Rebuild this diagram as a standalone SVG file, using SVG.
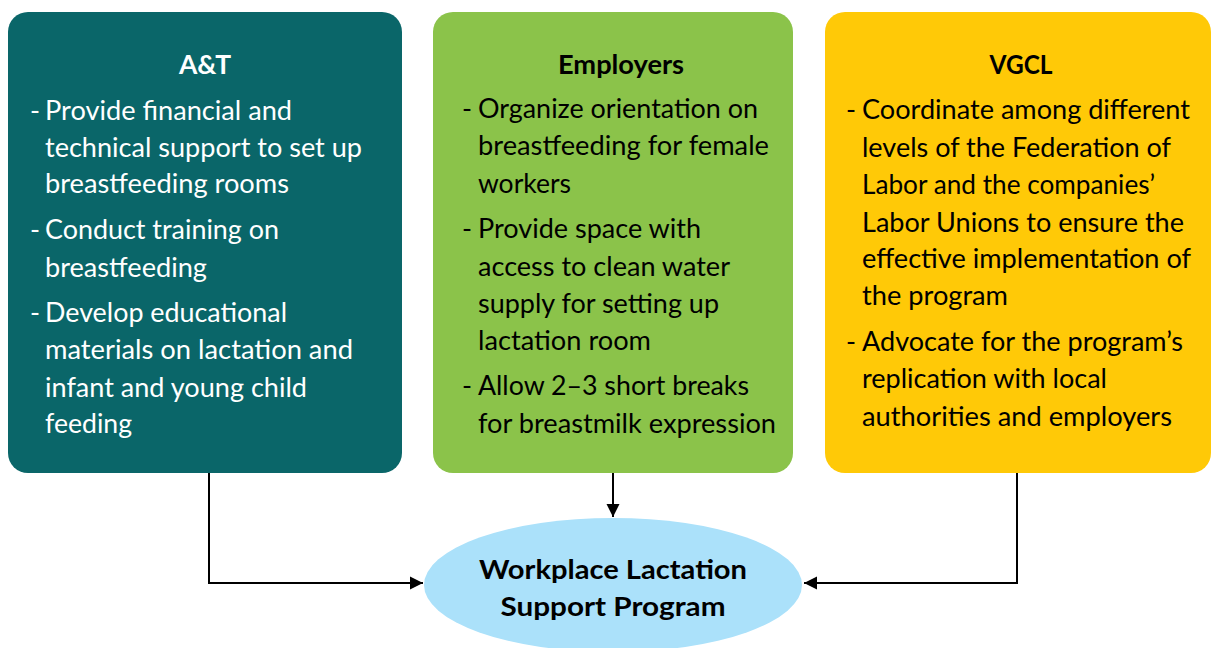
<svg xmlns="http://www.w3.org/2000/svg" width="1211" height="648" viewBox="0 0 1211 648">
<defs>
<style>
.t{font-family:Lato,"Open Sans","Liberation Sans",sans-serif;font-size:27px}
.b{font-family:Lato,"Open Sans","Liberation Sans",sans-serif;font-size:27px;font-weight:bold}
.w{fill:#ffffff}
.k{fill:#000000}
.con{fill:none;stroke:#000;stroke-width:2}
</style>
<marker id="ah" viewBox="0 0 10 10" refX="10" refY="5" markerWidth="6.5" markerHeight="7" markerUnits="strokeWidth" orient="auto">
<path d="M0,0 L10,5 L0,10 z" fill="#000"/>
</marker>
</defs>
<rect width="1211" height="648" fill="#fff"/>
<g id="connectors">
<polyline class="con" points="209,473 209,583 423,583" marker-end="url(#ah)"/>
<line class="con" x1="613" y1="473" x2="613" y2="517" marker-end="url(#ah)"/>
<polyline class="con" points="1017,473 1017,583 804,583" marker-end="url(#ah)"/>
</g>
<g id="node-at">
<rect x="8" y="12" width="394" height="461" rx="20" fill="#0A6669"/>
<text class="b w" x="205" y="74" text-anchor="middle" textLength="52" lengthAdjust="spacingAndGlyphs">A&amp;T</text>
<g class="t w">
<text x="30" y="120">-</text>
<text x="45" y="120" textLength="247" lengthAdjust="spacingAndGlyphs">Provide financial and</text>
<text x="45" y="157" textLength="317" lengthAdjust="spacingAndGlyphs">technical support to set up</text>
<text x="45" y="193" textLength="244" lengthAdjust="spacingAndGlyphs">breastfeeding rooms</text>
<text x="30" y="239">-</text>
<text x="45" y="239" textLength="234" lengthAdjust="spacingAndGlyphs">Conduct training on</text>
<text x="45" y="277" textLength="162" lengthAdjust="spacingAndGlyphs">breastfeeding</text>
<text x="30" y="322">-</text>
<text x="45" y="322" textLength="242" lengthAdjust="spacingAndGlyphs">Develop educational</text>
<text x="45" y="359" textLength="308" lengthAdjust="spacingAndGlyphs">materials on lactation and</text>
<text x="45" y="397" textLength="262" lengthAdjust="spacingAndGlyphs">infant and young child</text>
<text x="45" y="433" textLength="87" lengthAdjust="spacingAndGlyphs">feeding</text>
</g>
</g>
<g id="node-employers">
<rect x="433" y="12" width="360" height="461" rx="20" fill="#8BC34A"/>
<text class="b k" x="621" y="74" text-anchor="middle" textLength="126" lengthAdjust="spacingAndGlyphs">Employers</text>
<g class="t k">
<text x="462" y="118">-</text>
<text x="478" y="118" textLength="280" lengthAdjust="spacingAndGlyphs">Organize orientation on</text>
<text x="478" y="155" textLength="291" lengthAdjust="spacingAndGlyphs">breastfeeding for female</text>
<text x="478" y="193" textLength="93" lengthAdjust="spacingAndGlyphs">workers</text>
<text x="462" y="238">-</text>
<text x="478" y="238" textLength="223" lengthAdjust="spacingAndGlyphs">Provide space with</text>
<text x="478" y="276" textLength="252" lengthAdjust="spacingAndGlyphs">access to clean water</text>
<text x="478" y="313" textLength="241" lengthAdjust="spacingAndGlyphs">supply for setting up</text>
<text x="478" y="350" textLength="173" lengthAdjust="spacingAndGlyphs">lactation room</text>
<text x="462" y="395">-</text>
<text x="478" y="395" textLength="271" lengthAdjust="spacingAndGlyphs">Allow 2–3 short breaks</text>
<text x="478" y="433" textLength="298" lengthAdjust="spacingAndGlyphs">for breastmilk expression</text>
</g>
</g>
<g id="node-vgcl">
<rect x="825" y="12" width="386" height="461" rx="20" fill="#FFC907"/>
<text class="b k" x="1021" y="74" text-anchor="middle" textLength="63" lengthAdjust="spacingAndGlyphs">VGCL</text>
<g class="t k">
<text x="846" y="119">-</text>
<text x="862" y="119" textLength="328" lengthAdjust="spacingAndGlyphs">Coordinate among different</text>
<text x="862" y="157" textLength="309" lengthAdjust="spacingAndGlyphs">levels of the Federation of</text>
<text x="862" y="194" textLength="293" lengthAdjust="spacingAndGlyphs">Labor and the companies’</text>
<text x="862" y="232" textLength="322" lengthAdjust="spacingAndGlyphs">Labor Unions to ensure the</text>
<text x="862" y="268" textLength="329" lengthAdjust="spacingAndGlyphs">effective implementation of</text>
<text x="862" y="305" textLength="146" lengthAdjust="spacingAndGlyphs">the program</text>
<text x="846" y="351">-</text>
<text x="862" y="351" textLength="321" lengthAdjust="spacingAndGlyphs">Advocate for the program’s</text>
<text x="862" y="388" textLength="245" lengthAdjust="spacingAndGlyphs">replication with local</text>
<text x="862" y="426" textLength="310" lengthAdjust="spacingAndGlyphs">authorities and employers</text>
</g>
</g>
<g id="node-program">
<ellipse cx="613" cy="585" rx="189" ry="67" fill="#ABE1FA"/>
<text class="b k" x="613" y="579" text-anchor="middle" textLength="268" lengthAdjust="spacingAndGlyphs">Workplace Lactation</text>
<text class="b k" x="613" y="616" text-anchor="middle" textLength="225" lengthAdjust="spacingAndGlyphs">Support Program</text>
</g>
</svg>
